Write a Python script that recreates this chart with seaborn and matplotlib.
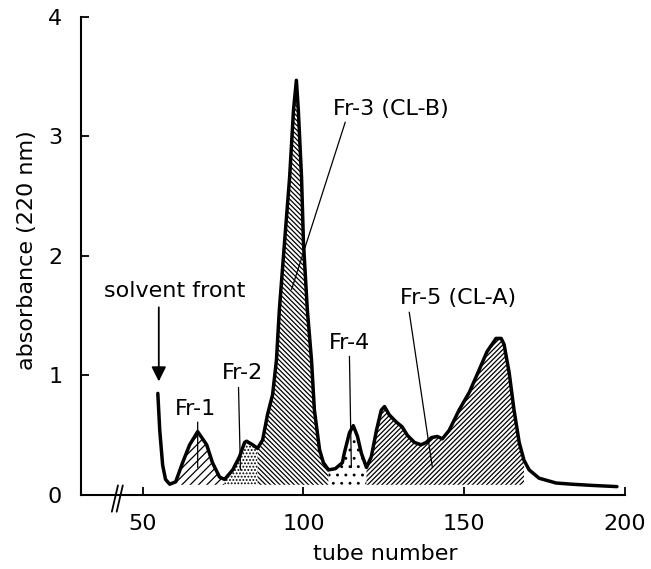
import numpy as np
import pandas as pd
import seaborn as sns
import matplotlib.pyplot as plt

# elution profile
tube = [54.7, 55.3, 56.2, 57.1, 58.4, 60.25, 62.4, 64.6, 67.1, 69.9, 71.7, 73.9, 75.47,
        78.0, 80.1, 81.7, 82.3, 84.2, 85.71, 87.3, 88.8, 90.4, 91.6, 92.5, 94.1, 95.7,
        96.9, 97.8, 98.4, 99.4, 100.0, 101.2, 102.5, 103.4, 105.0, 106.2, 107.8, 109.9,
        112.1, 112.7, 114.3, 115.5, 116.8, 118.0, 119.6, 121.1, 122.7, 124.2, 125.2,
        126.7, 128.9, 130.7, 132.3, 134.5, 136.6, 138.2, 139.8, 141.6, 143.2, 145.3,
        148.4, 151.6, 154.7, 157.1, 159.9, 161.5, 162.4, 164.0, 165.5, 167.1, 168.6,
        170.2, 173.3, 178.6, 183.5, 189.8, 197.5]
absorbance = [0.85, 0.54, 0.25, 0.13, 0.09, 0.11, 0.27, 0.42, 0.53, 0.42, 0.27, 0.15, 0.13,
              0.21, 0.32, 0.44, 0.45, 0.42, 0.39, 0.46, 0.67, 0.84, 1.13, 1.55, 2.11, 2.66,
              3.22, 3.47, 3.22, 2.66, 2.11, 1.55, 1.13, 0.71, 0.38, 0.27, 0.21, 0.22,
              0.27, 0.35, 0.52, 0.58, 0.49, 0.35, 0.23, 0.32, 0.54, 0.71, 0.74,
              0.67, 0.61, 0.57, 0.50, 0.44, 0.42, 0.44, 0.48, 0.49, 0.47, 0.54,
              0.71, 0.86, 1.05, 1.20, 1.31, 1.31, 1.26, 1.02, 0.71, 0.44, 0.29,
              0.21, 0.14, 0.10, 0.09, 0.08, 0.07]
baseline = 0.085

# fraction cuts (tube numbers)
frac_names = ['Fr-1', 'Fr-2', 'Fr-3', 'Fr-4', 'Fr-5']
frac_start = [60.25, 75.47, 85.71, 107.8, 119.6]
frac_end = [75.47, 85.71, 107.8, 119.6, 168.6]
frac_hatch = ['////', '.....', '\\' * 7, '..', '/' * 7]

df = pd.DataFrame({'tube': tube, 'absorbance': absorbance})

sns.set_style('ticks')
plt.rcParams['font.family'] = ['DejaVu Sans']
plt.rcParams['text.color'] = 'black'
plt.rcParams['axes.labelcolor'] = 'black'
plt.rcParams['hatch.linewidth'] = 0.9

fig = plt.figure(figsize=(6.51, 5.69), dpi=100)
ax = fig.add_axes([0.1244, 0.1301, 0.8356, 0.8401])

t = df['tube'].values
a = df['absorbance'].values
for name, s, e, h in zip(frac_names, frac_start, frac_end, frac_hatch):
    m = (t >= s) & (t <= e)
    ax.fill_between(t, a, baseline, where=m, facecolor='white', edgecolor='black',
                    hatch=h, linewidth=0, zorder=1)

sns.lineplot(data=df, x='tube', y='absorbance', ax=ax, color='black', lw=2.5,
             estimator=None, sort=False, zorder=3)

ax.set_xlim(30.8, 200)
ax.set_ylim(0, 4)
ax.set_xticks([50, 100, 150, 200])
ax.set_yticks([0, 1, 2, 3, 4])
ax.tick_params(direction='in', length=6, width=1.3, labelsize=16, colors='black')
ax.tick_params(axis='x', pad=14)
ax.tick_params(axis='y', pad=13.5)
sns.despine(ax=ax)
for sp in ['left', 'bottom']:
    ax.spines[sp].set_linewidth(1.5)
    ax.spines[sp].set_color('black')

ax.set_xlabel('tube number', fontsize=16, va='center', color='black')
ax.set_ylabel('absorbance (220 nm)', fontsize=16, va='center', color='black')
ax.xaxis.set_label_coords(0.559, -0.123)
ax.yaxis.set_label_coords(-0.1, 0.513)

# axis break
for x0 in [40.4, 41.9]:
    ax.plot([x0, x0 + 1.9], [-0.14, 0.08], color='black', lw=1.3, clip_on=False)

# labels and leader lines
lbl = dict(fontsize=16, ha='center', va='center', color='black')
ln = dict(arrowstyle='-', color='black', lw=0.9, shrinkA=0, shrinkB=0)
ax.text(59.9, 1.71, 'solvent front', **lbl)
ax.annotate('', xy=(55.0, 0.95), xytext=(55.0, 1.57),
            arrowprops=dict(arrowstyle='-|>', color='black', lw=1.3,
                            mutation_scale=22, shrinkA=0, shrinkB=0))
ax.text(66.3, 0.72, 'Fr-1', **lbl)
ax.annotate('', xy=(67.1, 0.23), xytext=(67.1, 0.61), arrowprops=ln)
ax.text(81.1, 1.02, 'Fr-2', **lbl)
ax.annotate('', xy=(80.4, 0.21), xytext=(79.8, 0.90), arrowprops=ln)
ax.text(127.3, 3.23, 'Fr-3 (CL-B)', **lbl)
ax.annotate('', xy=(96.3, 1.72), xytext=(113.0, 3.12), arrowprops=ln)
ax.text(114.4, 1.27, 'Fr-4', **lbl)
ax.annotate('', xy=(114.9, 0.23), xytext=(114.3, 1.16), arrowprops=ln)
ax.text(148.0, 1.65, 'Fr-5 (CL-A)', **lbl)
ax.annotate('', xy=(140.1, 0.23), xytext=(132.9, 1.53), arrowprops=ln)

fig.savefig('out.png', dpi=100)
